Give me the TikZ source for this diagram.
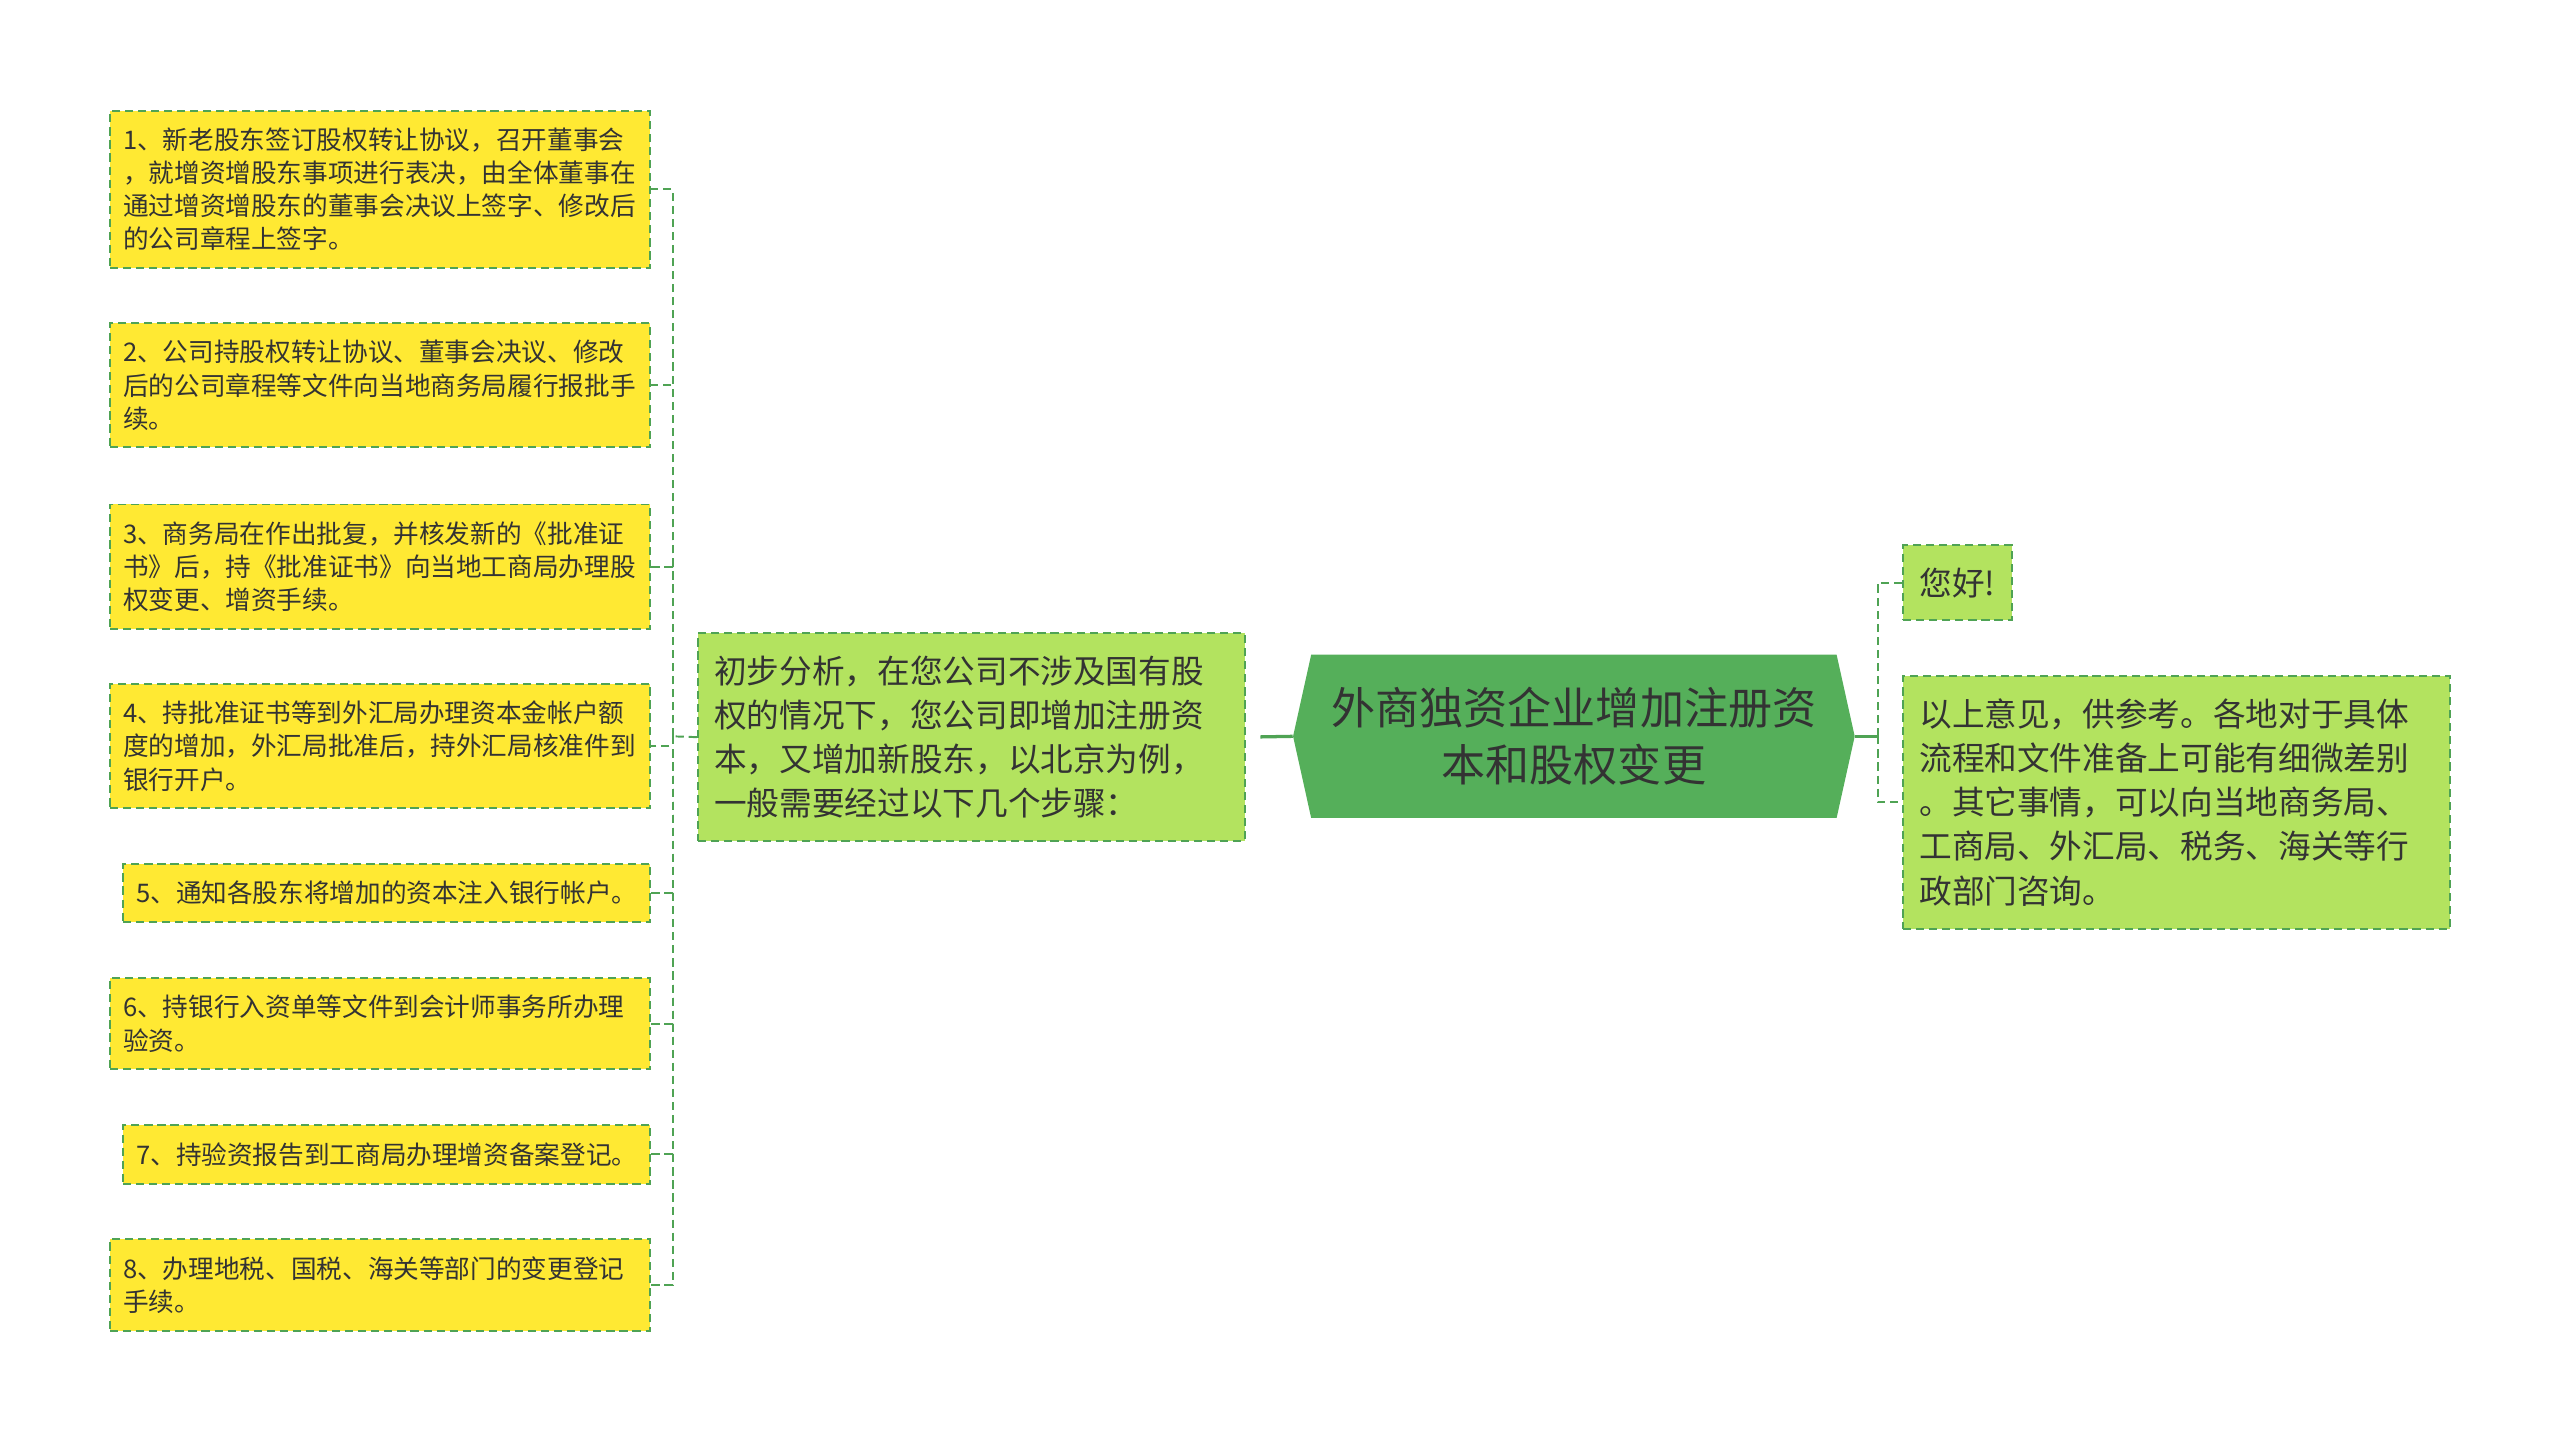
\documentclass[tikz,border=0pt]{standalone}
\usepackage{fontspec}
\setmainfont{Noto Sans CJK SC}
\usetikzlibrary{shapes.symbols}

\definecolor{stepyellow}{HTML}{FFE933}
\definecolor{leafgreen}{HTML}{B3E35F}
\definecolor{rootgreen}{HTML}{55AF5A}
\definecolor{linegreen}{HTML}{4FA354}
\definecolor{inkgray}{HTML}{333333}

\begin{document}
\begin{tikzpicture}[x=1pt, y=-1pt,
  stepbox/.style={rectangle, draw=linegreen, line width=1.2pt, dash pattern=on 5pt off 3pt,
    fill=stepyellow, text=inkgray, font=\fontsize{15.7}{20.3}\selectfont,
    inner xsep=8pt, inner ysep=4pt, anchor=east, align=left},
  leafbox/.style={rectangle, draw=linegreen, line width=1.2pt, dash pattern=on 5pt off 3pt,
    fill=leafgreen, text=inkgray, font=\fontsize{20}{27}\selectfont,
    inner xsep=10pt, inner ysep=4pt, anchor=west, align=left},
  rootbox/.style={signal, signal to=west and east, signal pointer angle=155,
    fill=rootgreen, text=inkgray, font=\fontsize{27}{35}\selectfont,
    minimum width=344pt, minimum height=100pt, align=center},
  dlink/.style={draw=linegreen, line width=1.2pt, dash pattern=on 5pt off 3pt},
  slink/.style={draw=linegreen, line width=2pt}]

\useasboundingbox (0, 0) rectangle (1568, 883);

\node[rootbox] (root) at (964, 451) {外商独资企业增加注册资\\本和股权变更};

\node[leafbox, anchor=east, text width=315pt, minimum height=127pt] (mid) at (763, 451.5)
  {初步分析，在您公司不涉及国有股\\权的情况下，您公司即增加注册资\\本，又增加新股东，以北京为例，\\一般需要经过以下几个步骤：};

\node[stepbox, text width=315pt, minimum height=96pt] (s1) at (399, 116)
  {1、新老股东签订股权转让协议，召开董事会\\，就增资增股东事项进行表决，由全体董事在\\通过增资增股东的董事会决议上签字、修改后\\的公司章程上签字。};
\node[stepbox, text width=315pt, minimum height=76pt] (s2) at (399, 236)
  {2、公司持股权转让协议、董事会决议、修改\\后的公司章程等文件向当地商务局履行报批手\\续。};
\node[stepbox, text width=315pt, minimum height=76pt] (s3) at (399, 347)
  {3、商务局在作出批复，并核发新的《批准证\\书》后，持《批准证书》向当地工商局办理股\\权变更、增资手续。};
\node[stepbox, text width=315pt, minimum height=76pt] (s4) at (399, 457)
  {4、持批准证书等到外汇局办理资本金帐户额\\度的增加，外汇局批准后，持外汇局核准件到\\银行开户。};
\node[stepbox, minimum height=36pt] (s5) at (399, 547)
  {5、通知各股东将增加的资本注入银行帐户。};
\node[stepbox, text width=315pt, minimum height=56pt] (s6) at (399, 627)
  {6、持银行入资单等文件到会计师事务所办理\\验资。};
\node[stepbox, minimum height=36pt] (s7) at (399, 707)
  {7、持验资报告到工商局办理增资备案登记。};
\node[stepbox, text width=315pt, minimum height=56pt] (s8) at (399, 787)
  {8、办理地税、国税、海关等部门的变更登记\\手续。};

\node[leafbox, minimum height=46pt] (hello) at (1165, 357) {您好!};
\node[leafbox, text width=315pt, minimum height=155pt] (advice) at (1165, 491.5)
  {以上意见，供参考。各地对于具体\\流程和文件准备上可能有细微差别\\。其它事情，可以向当地商务局、\\工商局、外汇局、税务、海关等行\\政部门咨询。};

\coordinate (lj) at (412, 451);
\coordinate (rj) at (1150, 451);

\draw[slink, shorten >=9pt] (root.west) -- (mid.east);
\draw[dlink] (mid.west) -- (lj);
\foreach \i in {1,...,8}
  \draw[dlink] (lj) |- (s\i.east);

\draw[slink] (root.east) -- (rj);
\draw[dlink] (rj) |- (hello.west);
\draw[dlink] (rj) |- (advice.west);

\end{tikzpicture}
\end{document}
